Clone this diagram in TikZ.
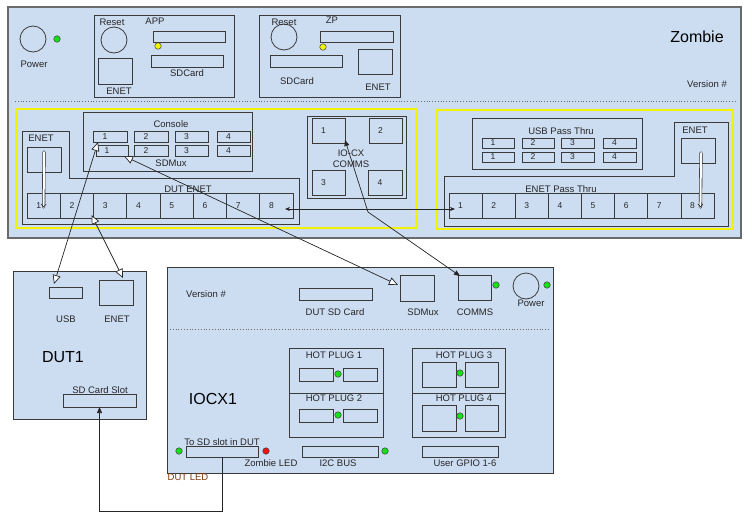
\documentclass[tikz,border=0pt]{standalone}
\usepackage{fontspec}
\setmainfont{Liberation Sans}
\usetikzlibrary{arrows.meta,calc}
\definecolor{zfill}{HTML}{CCDDF2}
\definecolor{bord}{HTML}{3A3A3A}
\definecolor{bordo}{HTML}{6A6A6A}
\definecolor{yel}{HTML}{F2F200}
\definecolor{ledg}{HTML}{18E018}
\definecolor{ledr}{HTML}{EE1111}
\definecolor{ledy}{HTML}{F4F400}
\definecolor{brn}{HTML}{7A3B10}
\newcommand\bx[6][]{\node[#1,anchor=north west,minimum width={(#5)-(#3)},minimum height={(#6)-(#4)}] (#2) at (#3,#4) {};}
\tikzset{
 r/.style={draw=bord, fill=zfill, line width=0.8pt, inner sep=0pt, outer sep=0pt},
 outerbox/.style={r, draw=bordo, line width=1.3pt},
 yb/.style={draw=yel, line width=2pt, inner sep=0pt, outer sep=0pt},
 pc/.style={r, line width=0.7pt},
 circ/.style={circle, draw=bord, fill=zfill, line width=0.8pt, minimum size=26pt, inner sep=0pt},
 led/.style={circle, draw=black!75, fill=ledg, line width=0.5pt, minimum size=6.5pt, inner sep=0pt},
 yled/.style={led, fill=ledy},
 rled/.style={led, fill=ledr},
 lbl/.style={font=\fontsize{9.5}{11}\selectfont, inner sep=0pt, text=black!85},
 num/.style={lbl, font=\fontsize{8.5}{10}\selectfont},
 big/.style={font=\fontsize{16}{18}\selectfont, inner sep=0pt},
 dotline/.style={draw=bordo, dotted, line width=0.8pt},
 poly/.style={draw=bord, line width=0.8pt},
 conn/.style={draw=black!85, line width=0.7pt},
 hol/.style={conn, arrows={Triangle[fill=white,length=9pt,width=8pt]-Triangle[fill=white,length=9pt,width=8pt]}},
 fil/.style={conn, arrows={Triangle[length=6pt,width=5pt]-Triangle[length=6pt,width=5pt]}},
 hor/.style={conn, arrows={Stealth[length=5pt,width=4pt]-Stealth[length=5pt,width=4pt]}},
 dbl/.style={draw=black!85, double=white, double distance=2pt, line width=0.6pt, line cap=round},
}
\begin{document}
\begin{tikzpicture}[x=1pt,y=-1pt]
\useasboundingbox[fill=white] (0,0) rectangle (752,525);

% ================= Zombie =================
\bx[outerbox]{zombie}{8}{7}{741}{238}
\draw[dotline] (15,101) -- (737,101);
\node[circ] (zpow) at (33,39) {};
\node[led] (zpowled) at (57,39) {};
\node[lbl] at (34,64) {Power};

% APP
\bx[r]{app}{94}{15}{234}{97}
\node[circ] (appreset) at (114,40) {};
\node[lbl] at (112,22) {Reset};
\node[lbl] at (155,21) {APP};
\bx[r]{appslot}{153}{31}{225}{42}
\node[yled] at (158,46) {};
\bx[r]{appsd}{151}{55}{223}{67}
\node[lbl] at (187,73) {SDCard};
\bx[r]{appenet}{98}{58}{132}{84}
\node[lbl] at (119,91) {ENET};

% ZP
\bx[r]{zp}{259}{15}{400}{97}
\node[circ] (zpreset) at (284,37) {};
\node[lbl] at (284,22) {Reset};
\node[lbl] at (332,20) {ZP};
\bx[r]{zpslot}{320}{31}{393}{42}
\node[yled] at (323,47) {};
\bx[r]{zpsd}{270}{55}{342}{67}
\node[lbl] at (297,81) {SDCard};
\bx[r]{zpenet}{358}{49}{392}{74}
\node[lbl] at (378,87) {ENET};

\node[big] at (697,37) {Zombie};
\node[lbl] at (707,84) {Version \#};

% yellow groups
\bx[yb]{yl}{16}{109}{416}{228}
\bx[yb]{yr}{437}{110}{733}{229}

% left ENET / DUT ENET
\draw[poly] (22,131) -- (69,131) -- (69,178) -- (299,178) -- (299,224) -- (22,224) -- cycle;
\node[lbl] at (41,138) {ENET};
\bx[r]{enetL}{27}{147}{61}{172}
\node[lbl] at (188,189) {DUT ENET};
\foreach \i in {1,...,8}{
  \pgfmathsetmacro\xa{27+(\i-1)*33.25}
  \pgfmathsetmacro\xb{\xa+33.25}
  \bx[pc]{p\i}{\xa}{193}{\xb}{218}
  \node[num] at ([xshift=-5pt]p\i.center) {\i};
}

% Console / SDMux
\bx[r]{console}{83}{112}{252}{171}
\node[lbl] at (171,124) {Console};
\bx[pc]{c1}{93}{131}{127}{142}
\bx[pc]{c2}{134}{131}{168}{142}
\bx[pc]{c3}{175}{131}{208}{142}
\bx[pc]{c4}{217}{131}{250}{142}
\bx[pc]{s1}{96}{145}{128}{156}
\bx[pc]{s2}{134}{145}{168}{156}
\bx[pc]{s3}{175}{145}{208}{156}
\bx[pc]{s4}{217}{145}{250}{156}
\foreach \n/\t in {c1/1,c2/2,c3/3,c4/4,s1/1,s2/2,s3/3,s4/4}{
  \node[num] at ([xshift=-5pt]\n.center) {\t};
}
\node[lbl] at (171,163) {SDMux};

% IO-CX COMMS
\bx[r]{iocx}{307}{116}{406}{198}
\bx[r]{x1}{312}{118}{345}{143}
\bx[r]{x2}{369}{118}{402}{143}
\bx[r]{x3}{312}{170}{345}{195}
\bx[r]{x4}{368}{170}{402}{195}
\foreach \n/\t in {x1/1,x2/2,x3/3,x4/4}{
  \node[num] at ([xshift=-5pt]\n.center) {\t};
}
\node[lbl] at (351,153) {IO-CX};
\node[lbl] at (351,164) {COMMS};

% USB Pass Thru
\bx[r]{usbpt}{472}{118}{642}{169}
\node[lbl] at (561,131) {USB Pass Thru};
\bx[pc]{u1}{482}{138}{514}{148}
\bx[pc]{u2}{522}{138}{554}{148}
\bx[pc]{u3}{561}{138}{594}{148}
\bx[pc]{u4}{603}{138}{636}{148}
\bx[pc]{v1}{482}{152}{514}{162}
\bx[pc]{v2}{522}{152}{554}{162}
\bx[pc]{v3}{561}{152}{594}{162}
\bx[pc]{v4}{603}{152}{636}{162}
\foreach \n/\t in {u1/1,u2/2,u3/3,u4/4,v1/1,v2/2,v3/3,v4/4}{
  \node[num] at ([xshift=-5pt]\n.center) {\t};
}

% right ENET / ENET Pass Thru
\draw[poly] (444,176) -- (674,176) -- (674,122) -- (728,122) -- (728,226) -- (444,226) -- cycle;
\node[lbl] at (695,130) {ENET};
\bx[r]{enetR}{681}{138}{715}{163}
\node[lbl] at (561,189) {ENET Pass Thru};
\foreach \i in {1,...,8}{
  \pgfmathsetmacro\xa{449+(\i-1)*33.125}
  \pgfmathsetmacro\xb{\xa+33.125}
  \bx[pc]{q\i}{\xa}{193}{\xb}{218}
  \node[num] at ([xshift=-5pt]q\i.center) {\i};
}

% ================= DUT1 =================
\bx[r]{dut}{13}{271}{146}{419}
\bx[r]{dutusb}{49}{287}{82}{298}
\bx[r]{dutenet}{99}{280}{133}{305}
\node[lbl] at (66,319) {USB};
\node[lbl] at (117,319) {ENET};
\node[big] at (63,357) {DUT1};
\node[lbl] at (100,390) {SD Card Slot};
\bx[r]{dutsd}{63}{394}{136}{407}

% ================= IOCX1 =================
\bx[r]{iocx1}{167}{267}{553}{473}
\draw[dotline] (170,329) -- (550,329);
\node[lbl] at (206,294) {Version \#};
\bx[r]{iosd}{299}{288}{372}{300}
\node[lbl] at (335,312) {DUT SD Card};
\bx[r]{iosdmux}{400}{275}{434}{301}
\node[lbl] at (423,312) {SDMux};
\bx[r]{iocomms}{458}{275}{491}{300}
\node[lbl] at (475,312) {COMMS};
\node[led] at (496,285) {};
\node[circ] (iopow) at (526,286) {};
\node[lbl] at (531,303) {Power};
\node[led] at (547,285) {};

\bx[r]{hp1}{289}{348}{383}{393}
\bx[r]{hp2}{289}{393}{383}{437}
\node[lbl] at (334,355) {HOT PLUG 1};
\node[lbl] at (334,398) {HOT PLUG 2};
\bx[r]{hp1a}{299}{368}{333}{381}
\bx[r]{hp1b}{343}{368}{377}{381}
\node[led] at (338,374) {};
\bx[r]{hp2a}{299}{409}{333}{422}
\bx[r]{hp2b}{343}{409}{377}{422}
\node[led] at (338,415) {};

\bx[r]{hp3}{412}{348}{505}{393}
\bx[r]{hp4}{412}{393}{505}{437}
\node[lbl] at (464,355) {HOT PLUG 3};
\node[lbl] at (464,398) {HOT PLUG 4};
\bx[r]{hp3a}{422}{362}{456}{387}
\bx[r]{hp3b}{465}{362}{498}{387}
\node[led] at (460,373) {};
\bx[r]{hp4a}{422}{405}{456}{431}
\bx[r]{hp4b}{465}{405}{498}{431}
\node[led] at (460,416) {};

\node[big] at (213,399) {IOCX1};
\node[lbl] at (222,442) {To SD slot in DUT};
\bx[r]{tosd}{186}{446}{258}{457}
\node[led] at (179,451) {};
\node[rled] at (266,451) {};
\node[lbl] at (271,463) {Zombie LED};
\node[lbl, text=brn] at (188,477) {DUT LED};
\bx[r]{i2c}{302}{446}{378}{457}
\node[led] at (385,451) {};
\node[lbl] at (338,463) {I2C BUS};
\bx[r]{gpio}{422}{446}{498}{457}
\node[lbl] at (465,463) {User GPIO 1-6};

% ================= connectors =================
% ENET internal loops
\coordinate (eLtop) at ([yshift=-5pt]enetL.north);
\coordinate (eLbot) at ([yshift=-1.5pt]p1.center);
\draw[dbl] (eLtop) -- (eLbot);
\draw[conn, line width=0.6pt] ([xshift=-2.5pt,yshift=3pt]eLbot) -- (eLbot) -- ([xshift=2.5pt,yshift=3pt]eLbot);
\coordinate (eRtop) at ([xshift=3pt,yshift=-15pt]enetR.north);
\coordinate (eRbot) at ([xshift=3pt,yshift=-1.5pt]q8.center);
\draw[dbl] (eRtop) -- (eRbot);
\draw[conn, line width=0.6pt] ([xshift=-2.5pt,yshift=3pt]eRbot) -- (eRbot) -- ([xshift=2.5pt,yshift=3pt]eRbot);

% DUT ENET 8 <-> ENET Pass Thru 1
\draw[hor] ([xshift=-8pt,yshift=-3.5pt]p8.east) -- ([xshift=6pt,yshift=-3.5pt]q1.west);

% DUT USB <-> Console 1
\draw[hol] ([xshift=5pt,yshift=3pt]dutusb.north west) -- ([xshift=5pt]c1.south west);
% DUT ENET <-> DUT ENET port
\draw[hol] ([xshift=-10pt,yshift=2pt]dutenet.north east) -- ([xshift=-2pt,yshift=3pt]p2.south east);
% SDMux 1 <-> IOCX SDMux
\draw[hol] ([xshift=-4pt]s1.south east) -- ([xshift=-2pt,yshift=-10pt]iosdmux.north west);
% IO-CX COMMS 1 <-> IOCX COMMS
\coordinate (cbend) at (368,212);
\draw[fil] ([yshift=3pt]x1.south east) -- (cbend) -- ([xshift=2pt,yshift=-1pt]iocomms.north west);
% To SD slot -> DUT SD Card Slot
\coordinate (sdlow) at (0,511);
\draw[conn, -{Triangle[length=6pt,width=5pt]}] (tosd.south) -- (tosd.south |- sdlow) -| (dutsd.south);
\end{tikzpicture}
\end{document}
